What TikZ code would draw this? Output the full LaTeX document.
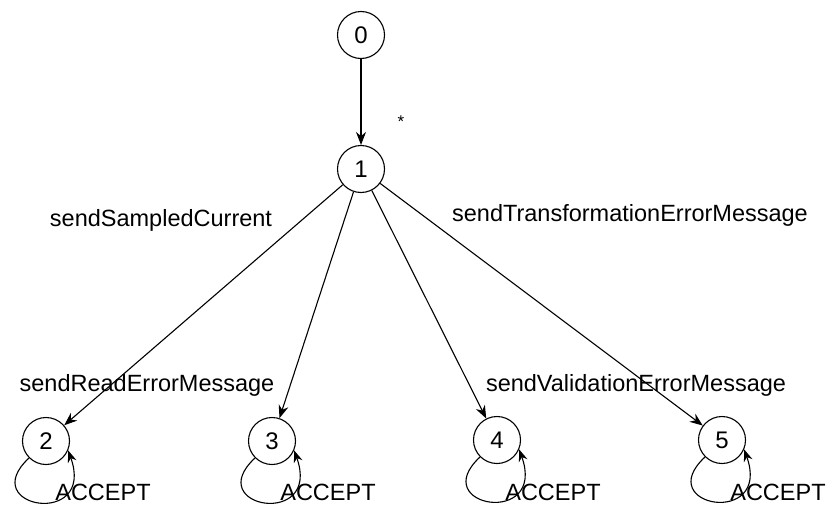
\documentclass[tikz,border=0pt]{standalone}
\usepackage{fontspec}
\setmainfont{Liberation Sans}
\usetikzlibrary{arrows.meta}
\begin{document}
\begin{tikzpicture}[x=1pt,y=-1pt,
  state/.style={circle,draw,line width=1.1pt,minimum size=47pt,inner sep=0pt,font=\fontsize{24}{28}\selectfont},
  lbl/.style={font=\fontsize{23.5}{28}\selectfont,inner sep=0pt},
  edge/.style={line width=1.1pt,-{Stealth[length=13pt,width=10pt]}},
  selfloop/.style={line width=1.1pt,-{Stealth[length=12pt,width=9pt]}}]
\useasboundingbox[fill=white] (0,0) rectangle (830,506);
\clip (0,0) rectangle (830,506);

% states
\node[state] (s0) at (361,35) {0};
\node[state] (s1) at (361,169) {1};
\node[state] (s2) at (46,441) {2};
\node[state] (s3) at (272,441) {3};
\node[state] (s4) at (497,440) {4};
\node[state] (s5) at (722,440) {5};

% transitions
\draw[edge] (s0) -- (s1);
\draw[edge] (s1) -- (s2);
\draw[edge] (s1) -- (s3);
\draw[edge] (s1) -- (s4);
\draw[edge] (s1) -- (s5);

% accepting self-loops
\foreach \s in {s2,s3,s4,s5}{
  \draw[selfloop] (\s.225) .. controls +(-54,50) and +(28,78) .. (\s.-23);
}

% labels
\node[font=\fontsize{17}{20}\selectfont,inner sep=0pt] (star) at (401,122) {*};
\node[lbl] (l1) at (161,220) {sendSampledCurrent};
\node[lbl] (l2) at (630,215) {sendTransformationErrorMessage};
\node[lbl] (l3) at (147,385) {sendReadErrorMessage};
\node[lbl] (l4) at (636,385) {sendValidationErrorMessage};
\node[lbl] (a2) at (103,492) {ACCEPT};
\node[lbl] (a3) at (328,492) {ACCEPT};
\node[lbl] (a4) at (553,492) {ACCEPT};
\node[lbl] (a5) at (778,492) {ACCEPT};
\end{tikzpicture}
\end{document}
